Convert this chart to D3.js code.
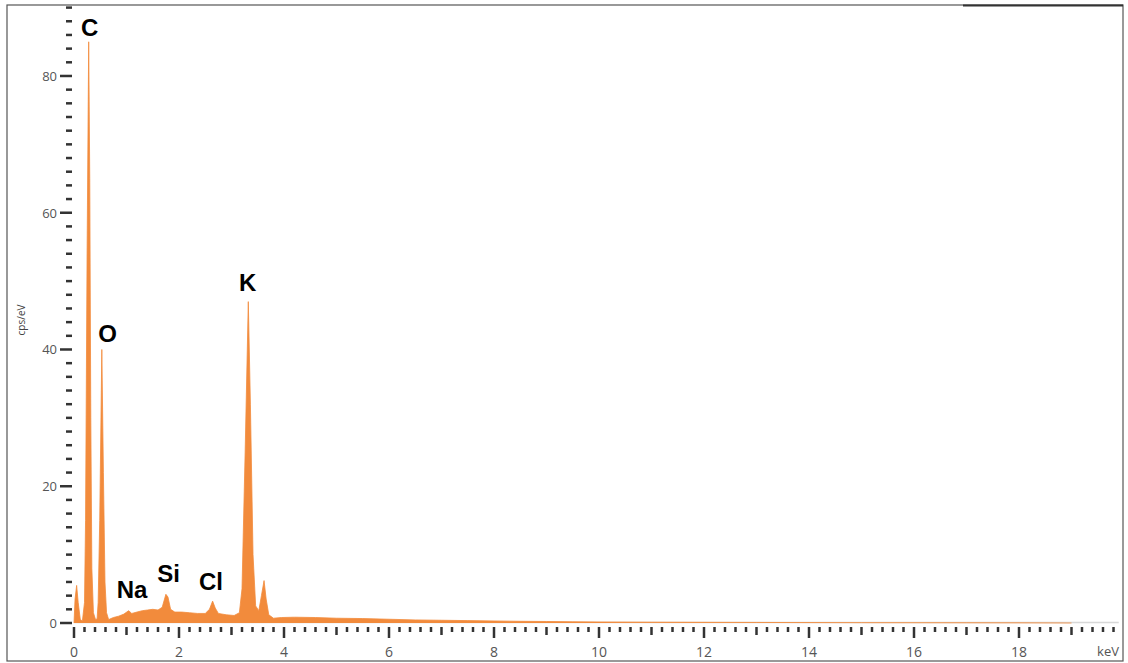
<!DOCTYPE html>
<html>
<head>
<meta charset="utf-8">
<script src="https://cdn.jsdelivr.net/npm/d3@7"></script>
<style>
  body { margin: 0; background: #fff; }
  svg { display: block; }
</style>
</head>
<body>
<svg id="chart"></svg>
<script>
// Espectro EDS - energia (keV) e contagens (cps/eV)
var energy = [0.00, 0.02, 0.05, 0.08, 0.12, 0.16, 0.20, 0.22, 0.25, 0.28, 0.30, 0.32, 0.34, 0.37, 0.41,
  0.44, 0.46, 0.49, 0.53, 0.56, 0.59, 0.62, 0.66, 0.75, 0.85, 0.95, 1.04, 1.10, 1.20, 1.30, 1.40,
  1.50, 1.60, 1.68, 1.75, 1.79, 1.84, 1.92, 2.05, 2.20, 2.35, 2.50, 2.58, 2.64, 2.69, 2.75, 2.90,
  3.05, 3.15, 3.20, 3.26, 3.32, 3.36, 3.41, 3.46, 3.52, 3.57, 3.62, 3.66, 3.71, 3.80, 3.95, 4.2,
  4.6, 5.0, 5.5, 6.0, 6.5, 7.0, 7.5, 8.0, 8.5, 9.0, 9.5, 10, 11, 12, 13, 14, 15, 16, 17, 18, 19, 19.9];
var cps = [0, 3.5, 5.5, 3, 0.5, 0.3, 3, 15, 55, 85, 65, 30, 8, 1.5, 0.5,
  0.6, 3, 15, 40, 22, 6, 1.5, 0.5, 0.8, 1.0, 1.3, 1.8, 1.4, 1.6, 1.8, 1.9,
  2.0, 1.9, 2.3, 4.2, 3.8, 2.0, 1.6, 1.6, 1.5, 1.4, 1.4, 2.0, 3.2, 2.2, 1.4, 1.2,
  1.1, 1.5, 5, 25, 47, 32, 10, 2.5, 1.8, 4, 6.2, 3.5, 1.2, 0.7, 0.8, 0.85,
  0.8, 0.7, 0.65, 0.55, 0.45, 0.4, 0.35, 0.3, 0.25, 0.22, 0.18, 0.15, 0.12, 0.1, 0.08, 0.06, 0.05, 0.04, 0.03, 0.02, 0];

// Rótulos dos elementos (energia do rótulo e altura em cps/eV)
var elements = ["C", "O", "Na", "Si", "Cl", "K"];
var elemEnergy = [0.30, 0.64, 1.105, 1.80, 2.61, 3.31];
var elemLevel = [85.8, 41.1, 3.66, 6.0, 4.83, 48.6];

var yTicks = [0, 20, 40, 60, 80];
var xTicks = [0, 2, 4, 6, 8, 10, 12, 14, 16, 18];

var W = 1128, H = 663;
var svg = d3.select("#chart").attr("width", W).attr("height", H);

var xScale = d3.scaleLinear().domain([0, 20]).range([74, 1124]);
var yScale = d3.scaleLinear().domain([0, 90]).range([623, 7.6]);

// Moldura
svg.append("rect")
  .attr("x", 7).attr("y", 5).attr("width", 1116).attr("height", 656)
  .attr("fill", "none").attr("stroke", "#555").attr("stroke-width", 1.2);
svg.append("line")
  .attr("x1", 963).attr("x2", 1123).attr("y1", 5.5).attr("y2", 5.5)
  .attr("stroke", "#333").attr("stroke-width", 2);

// Linha de base cinza
svg.append("line")
  .attr("x1", xScale(0)).attr("x2", xScale(19.9))
  .attr("y1", yScale(0) - 0.5).attr("y2", yScale(0) - 0.5)
  .attr("stroke", "#d8d8d8").attr("stroke-width", 1.5);

// Espectro
var data = energy.map(function(e, i) { return [e, cps[i]]; });
var area = d3.area()
  .x(function(d) { return xScale(d[0]); })
  .y0(yScale(0))
  .y1(function(d) { return yScale(d[1]); });
svg.append("path")
  .datum(data)
  .attr("d", area)
  .attr("fill", "#F28B3C")
  .attr("stroke", "#F28B3C")
  .attr("stroke-width", 0.8)
  .attr("stroke-linejoin", "round");

// Eixo y - marcas a cada 2 cps/eV
var yMinor = d3.range(0, 90.1, 2);
svg.append("g").selectAll("line")
  .data(yMinor)
  .enter()
  .append("line")
  .attr("x1", function(d) { return d % 20 == 0 ? 60 : 66; })
  .attr("x2", 72)
  .attr("y1", function(d) { return yScale(d); })
  .attr("y2", function(d) { return yScale(d); })
  .attr("stroke", "#333")
  .attr("stroke-width", 2.5);

svg.append("g").selectAll("text")
  .data(yTicks)
  .enter()
  .append("text")
  .attr("x", 57)
  .attr("y", function(d) { return yScale(d) + 5; })
  .attr("text-anchor", "end")
  .style("font-family", "'Open Sans', sans-serif")
  .style("font-size", "13px")
  .style("fill", "#555")
  .text(function(d) { return d; });

// Eixo x - marcas a cada 0.2 keV
var xMinor = d3.range(0, 100).map(function(i) { return i * 0.2; });
svg.append("g").selectAll("line")
  .data(xMinor)
  .enter()
  .append("line")
  .attr("x1", function(d) { return xScale(d); })
  .attr("x2", function(d) { return xScale(d); })
  .attr("y1", 627)
  .attr("y2", function(d, i) { return i % 10 == 0 ? 638 : (i % 5 == 0 ? 635 : 632); })
  .attr("stroke", "#333")
  .attr("stroke-width", 2.5);

svg.append("g").selectAll("text")
  .data(xTicks)
  .enter()
  .append("text")
  .attr("x", function(d) { return xScale(d); })
  .attr("y", 657)
  .attr("text-anchor", "middle")
  .style("font-family", "'Open Sans', sans-serif")
  .style("font-size", "14px")
  .style("fill", "#555")
  .text(function(d) { return d; });

svg.append("text")
  .attr("x", 1108).attr("y", 656)
  .attr("text-anchor", "middle")
  .style("font-family", "'Open Sans', sans-serif")
  .style("font-size", "13px")
  .style("fill", "#555")
  .text("keV");

// Rótulo do eixo y
svg.append("text")
  .attr("transform", "translate(25,320) rotate(-90)")
  .attr("text-anchor", "middle")
  .style("font-family", "'Open Sans', sans-serif")
  .style("font-size", "10px")
  .style("fill", "#444")
  .text("cps/eV");

// Rótulos dos elementos
svg.append("g").selectAll("text")
  .data(elements)
  .enter()
  .append("text")
  .attr("x", function(d, i) { return xScale(elemEnergy[i]); })
  .attr("y", function(d, i) { return yScale(elemLevel[i]); })
  .attr("text-anchor", "middle")
  .style("font-family", "'Liberation Sans', Arial, sans-serif")
  .style("font-weight", "bold")
  .style("font-size", "24px")
  .style("fill", "#000")
  .text(function(d) { return d; });
</script>
</body>
</html>
